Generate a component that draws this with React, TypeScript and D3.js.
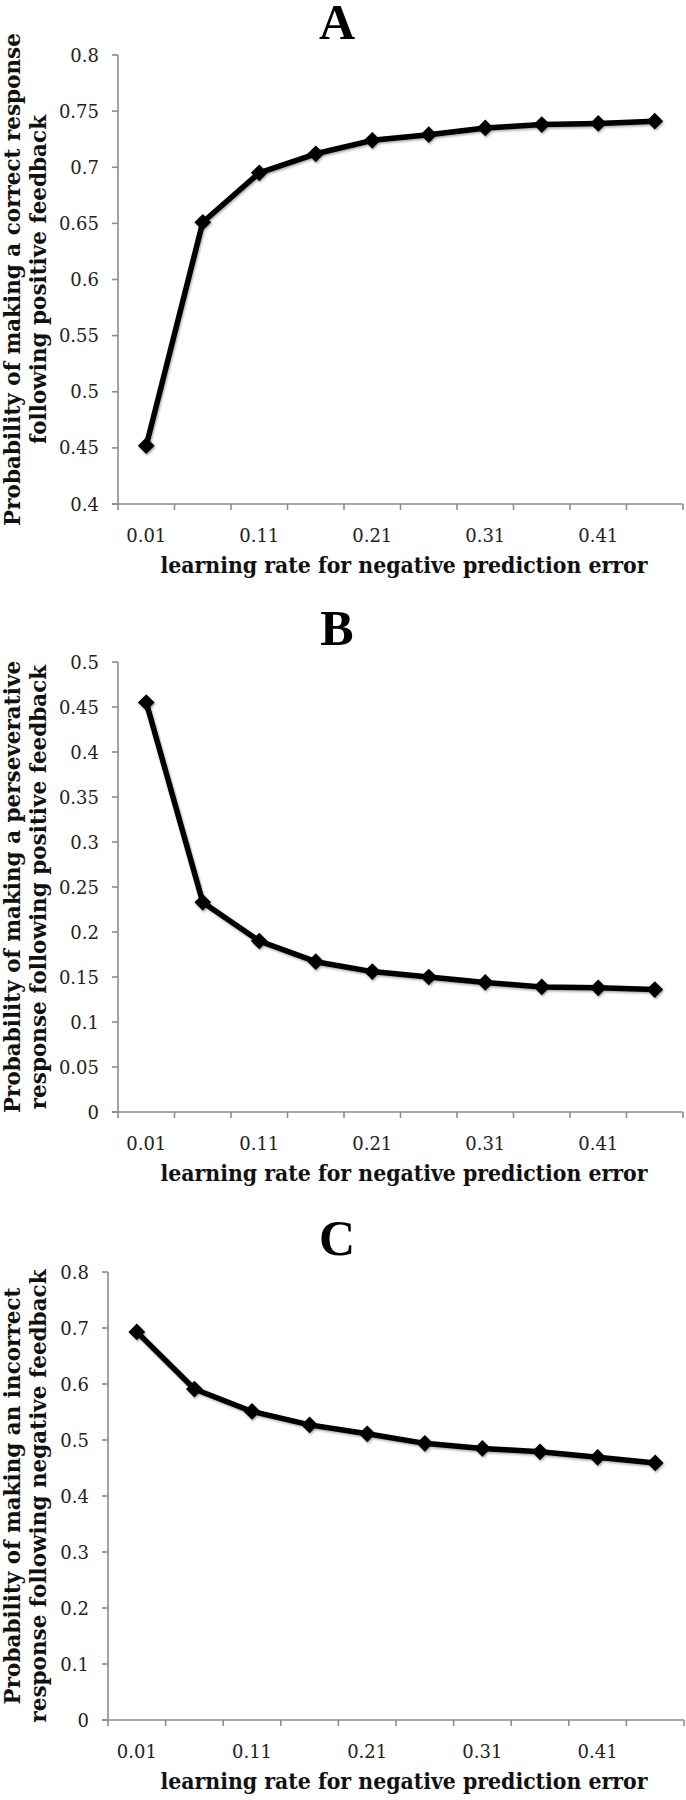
import React from "react";
import * as d3 from "d3";

const categories = ["0.01", "0.06", "0.11", "0.16", "0.21", "0.26", "0.31", "0.36", "0.41", "0.46"];
const shownLabels = ["0.01", "0.11", "0.21", "0.31", "0.41"];

const seriesA = [0.452, 0.651, 0.695, 0.712, 0.724, 0.729, 0.735, 0.738, 0.739, 0.741];
const seriesB = [0.455, 0.233, 0.190, 0.167, 0.156, 0.150, 0.144, 0.139, 0.138, 0.136];
const seriesC = [0.693, 0.591, 0.551, 0.527, 0.511, 0.494, 0.485, 0.479, 0.469, 0.459];

const ticksA = [0.4, 0.45, 0.5, 0.55, 0.6, 0.65, 0.7, 0.75, 0.8];
const ticksB = [0, 0.05, 0.1, 0.15, 0.2, 0.25, 0.3, 0.35, 0.4, 0.45, 0.5];
const ticksC = [0, 0.1, 0.2, 0.3, 0.4, 0.5, 0.6, 0.7, 0.8];

const xTitle = "learning rate for negative prediction error";
const yTitleA = ["Probability of making a correct response", "following positive feedback"];
const yTitleB = ["Probability of making a perseverative", "response following positive feedback"];
const yTitleC = ["Probability of making an incorrect", "response following negative feedback"];

const AXIS = "#8c8c8c";
const SERIF = "'Liberation Serif', 'Times New Roman', serif";
const SERIF2 = "'DejaVu Serif', serif";

type PanelProps = {
  letter: string;
  letterY: number;
  values: number[];
  ticks: number[];
  domain: [number, number];
  x0: number;
  x1: number;
  yTop: number;
  yBottom: number;
  yTitle: string[];
  fmt: (v: number) => string;
};

function Panel(p: PanelProps) {
  const x = d3.scaleBand<string>().domain(categories).range([p.x0, p.x1]).padding(0);
  const y = d3.scaleLinear().domain(p.domain).range([p.yBottom, p.yTop]);
  const bw = x.bandwidth();
  const pts: [number, number][] = p.values.map((v, i) => [x(categories[i])! + bw / 2, y(v)]);
  const line = d3.line()(pts) || "";
  const diamond = d3.symbol().type(d3.symbolSquare).size(140)() || "";
  const yMid = (p.yTop + p.yBottom) / 2;
  const boundaries = categories.map((c) => x(c)!).concat([p.x1]);
  return (
    <g>
      <text x={337} y={p.letterY} textAnchor="middle" fontFamily={SERIF} fontWeight="bold" fontSize={50} fill="#000">
        {p.letter}
      </text>
      {/* y axis */}
      <line x1={p.x0} x2={p.x0} y1={p.yTop} y2={p.yBottom} stroke={AXIS} strokeWidth={1.6} />
      {p.ticks.map((t) => (
        <g key={t}>
          <line x1={p.x0 - 6} x2={p.x0} y1={y(t)} y2={y(t)} stroke={AXIS} strokeWidth={1.6} />
          <text x={p.x0 - 19} y={y(t) + 6.5} textAnchor="end" fontFamily={SERIF2} fontSize={18} fill="#222">
            {p.fmt(t)}
          </text>
        </g>
      ))}
      {/* x axis */}
      <line x1={p.x0 - 6} x2={p.x1} y1={p.yBottom} y2={p.yBottom} stroke={AXIS} strokeWidth={1.6} />
      {boundaries.map((bx, i) => (
        <line key={i} x1={bx} x2={bx} y1={p.yBottom} y2={p.yBottom + 6} stroke={AXIS} strokeWidth={1.6} />
      ))}
      {shownLabels.map((c) => (
        <text key={c} x={x(c)! + bw / 2} y={p.yBottom + 38} textAnchor="middle" fontFamily={SERIF2} fontSize={18} fill="#222">
          {c}
        </text>
      ))}
      <text
        x={404}
        y={p.yBottom + 69}
        textAnchor="middle"
        fontFamily={SERIF2}
        fontWeight="bold"
        fontSize={21.5}
        textLength={487}
        lengthAdjust="spacingAndGlyphs"
        fill="#111"
      >
        {xTitle}
      </text>
      {/* y title */}
      {p.yTitle.map((s, i) => (
        <text
          key={i}
          transform={`translate(${20 + i * 26},${yMid}) rotate(-90)`}
          textAnchor="middle"
          fontFamily={SERIF2}
          fontWeight="bold"
          fontSize={21.5}
          fill="#111"
        >
          {s}
        </text>
      ))}
      {/* series */}
      <g filter="url(#shadow)">
        <path d={line} fill="none" stroke="#000" strokeWidth={5.5} strokeLinejoin="round" />
        {pts.map(([px, py], i) => (
          <path key={i} d={diamond} transform={`translate(${px},${py}) rotate(45)`} fill="#000" />
        ))}
      </g>
    </g>
  );
}

export default function App() {
  const f2 = (v: number) => d3.format("")(+v.toFixed(2));
  return (
    <svg width={686} height={1800} style={{ position: "absolute", left: 0, top: 0, background: "#fff" }}>
      <defs>
        <filter id="shadow" x="-10%" y="-10%" width="120%" height="120%">
          <feDropShadow dx={1} dy={1.5} stdDeviation={1.2} floodColor="#000" floodOpacity={0.35} />
        </filter>
      </defs>
      <rect width={686} height={1800} fill="#fff" />
      <Panel letter="A" letterY={39} values={seriesA} ticks={ticksA} domain={[0.4, 0.8]} x0={118} x1={683} yTop={55} yBottom={504} yTitle={yTitleA} fmt={f2} />
      <Panel letter="B" letterY={645} values={seriesB} ticks={ticksB} domain={[0, 0.5]} x0={118} x1={683} yTop={662} yBottom={1112} yTitle={yTitleB} fmt={f2} />
      <Panel letter="C" letterY={1255} values={seriesC} ticks={ticksC} domain={[0, 0.8]} x0={108} x1={684} yTop={1272} yBottom={1720} yTitle={yTitleC} fmt={f2} />
    </svg>
  );
}
